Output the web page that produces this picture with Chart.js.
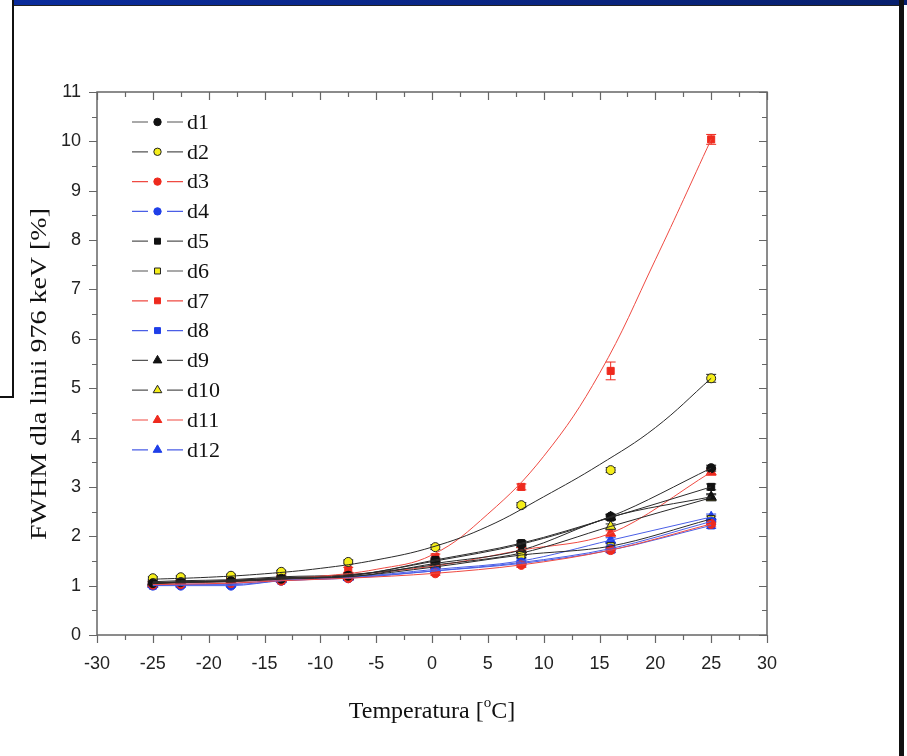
<!DOCTYPE html>
<html lang="pl">
<head>
<meta charset="UTF-8">
<title>FWHM vs temperatura</title>
<script src="https://cdn.jsdelivr.net/npm/chart.js@4.4.1/dist/chart.umd.min.js"></script>
<style>
  body { margin: 0; background: #fff; }
  #wrap { position: relative; width: 907px; height: 756px; overflow: hidden; }
  .f { position: absolute; }
  #chart { position: absolute; left: 0; top: 0; }
</style>
</head>
<body>
<div id="wrap">
  <div class="f" style="left:13px;top:0;width:894px;height:5px;background:linear-gradient(to right,#0b2c9c,#08206e);"></div>
  <div class="f" style="left:13px;top:5px;width:888px;height:1px;background:#222;"></div>
  <div class="f" style="left:12px;top:0;width:2px;height:398px;background:#111;"></div>
  <div class="f" style="left:0;top:396px;width:14px;height:2px;background:#111;"></div>
  <div class="f" style="left:899px;top:0;width:5px;height:756px;background:#111;"></div>
  <canvas id="chart" width="907" height="756"></canvas>
</div>
<script>
// temperatures of the measurements
const temps = [-25, -22.5, -18, -13.5, -7.5, 0.3, 8, 16, 25];

// FWHM [%] per detector
const d1  = [1.05, 1.07, 1.09, 1.14, 1.20, 1.50, 1.84, 2.40, 3.38];
const d2  = [1.15, 1.17, 1.20, 1.28, 1.48, 1.78, 2.63, 3.34, 5.20];
const d3  = [1.02, 1.03, 1.05, 1.10, 1.15, 1.25, 1.42, 1.72, 2.25];
const d4  = [1.00, 1.00, 1.00, 1.10, 1.15, 1.30, 1.47, 1.75, 2.30];
const d5  = [1.06, 1.08, 1.10, 1.16, 1.20, 1.52, 1.86, 2.38, 3.00];
const d6  = [1.04, 1.06, 1.08, 1.13, 1.18, 1.38, 1.62, 1.80, 2.35];
const d7  = [1.06, 1.08, 1.12, 1.20, 1.32, 1.58, 3.00, 5.35, 10.04];
const d8  = [1.00, 1.02, 1.02, 1.10, 1.16, 1.30, 1.45, 1.72, 2.22];
const d9  = [1.05, 1.07, 1.10, 1.15, 1.18, 1.45, 1.72, 2.39, 2.80];
const d10 = [1.08, 1.10, 1.12, 1.18, 1.22, 1.42, 1.66, 2.20, 2.78];
const d11 = [1.04, 1.06, 1.10, 1.15, 1.22, 1.40, 1.72, 2.06, 3.30];
const d12 = [1.02, 1.03, 1.04, 1.12, 1.17, 1.33, 1.50, 1.92, 2.39];

// fitted curves of d2 and d7 on a 5-degree grid
const fitTemps = [-25, -20, -15, -10, -5, 0, 5, 10, 15, 20, 25];
const d2Fit = [1.13, 1.17, 1.24, 1.35, 1.52, 1.78, 2.20, 2.80, 3.45, 4.20, 5.20];
const d7Fit = [1.05, 1.07, 1.11, 1.19, 1.33, 1.62, 2.45, 3.62, 5.30, 7.60, 10.04];

// error bars
const errSmall = [0.03, 0.03, 0.03, 0.03, 0.04, 0.04, 0.05, 0.05, 0.06];
const d2Err = [0.03, 0.03, 0.03, 0.03, 0.04, 0.05, 0.05, 0.05, 0.08];
const d7Err = [0.03, 0.03, 0.03, 0.04, 0.05, 0.06, 0.06, 0.18, 0.10];

const yTicks = [0, 1, 2, 3, 4, 5, 6, 7, 8, 9, 10, 11];
const xTicks = [-30, -25, -20, -15, -10, -5, 0, 5, 10, 15, 20, 25, 30];

const BLACK = '#111', YELLOW = '#f5ee1a', RED = '#ee2a1e', BLUE = '#1f3fe8';
const LBLACK = '#3a3a3a', LRED = '#ef4a42', LBLUE = '#4a5ee6';

const series = [
  {label: 'd1',  data: d1,  fill: BLACK,  line: LBLACK, style: 'circle'},
  {label: 'd2',  data: d2,  fill: YELLOW, line: LBLACK, style: 'circle', fit: d2Fit, err: d2Err},
  {label: 'd3',  data: d3,  fill: RED,    line: LRED,   style: 'circle'},
  {label: 'd4',  data: d4,  fill: BLUE,   line: LBLUE,  style: 'circle'},
  {label: 'd5',  data: d5,  fill: BLACK,  line: LBLACK, style: 'rect'},
  {label: 'd6',  data: d6,  fill: YELLOW, line: LBLACK, style: 'rect'},
  {label: 'd7',  data: d7,  fill: RED,    line: LRED,   style: 'rect', fit: d7Fit, err: d7Err},
  {label: 'd8',  data: d8,  fill: BLUE,   line: LBLUE,  style: 'rect'},
  {label: 'd9',  data: d9,  fill: BLACK,  line: LBLACK, style: 'triangle'},
  {label: 'd10', data: d10, fill: YELLOW, line: LBLACK, style: 'triangle'},
  {label: 'd11', data: d11, fill: RED,    line: LRED,   style: 'triangle'},
  {label: 'd12', data: d12, fill: BLUE,   line: LBLUE,  style: 'triangle'}
];

function pts(xs, arr) { return xs.map((t, i) => ({x: t, y: arr[i]})); }
function markerBorder(s) { return s.fill === YELLOW ? '#222' : s.fill; }
function radius(s) { return s.style === 'triangle' ? 5.8 : (s.style === 'rect' ? 5 : 4.5); }

let datasets = [];
series.forEach(s => {
  // fit curve, or a smooth line through the points
  datasets.push({
    data: s.fit ? pts(fitTemps, s.fit) : pts(temps, s.data),
    borderColor: s.line === LBLACK ? '#2a2a2a' : s.line,
    borderWidth: 1,
    pointRadius: 0,
    cubicInterpolationMode: s.fit ? 'default' : 'monotone',
    tension: 0.4,
    showLine: true
  });
});
series.forEach(s => {
  datasets.push({
    label: s.label,
    data: pts(temps, s.data),
    showLine: false,
    pointStyle: s.style,
    pointRadius: radius(s),
    pointBackgroundColor: s.fill,
    pointBorderColor: markerBorder(s),
    pointBorderWidth: 1,
    errColor: s.fill === YELLOW ? '#222' : s.fill,
    err: s.err || errSmall
  });
});

const errorBars = {
  id: 'errorBars',
  beforeDatasetsDraw(chart) {
    const ctx = chart.ctx, xs = chart.scales.x, ys = chart.scales.y;
    ctx.save();
    ctx.lineWidth = 1;
    chart.data.datasets.forEach(ds => {
      if (!ds.err) return;
      ctx.strokeStyle = ds.errColor;
      ds.data.forEach((p, i) => {
        const px = xs.getPixelForValue(p.x);
        const y1 = ys.getPixelForValue(p.y - ds.err[i]);
        const y2 = ys.getPixelForValue(p.y + ds.err[i]);
        ctx.beginPath();
        ctx.moveTo(px, y1); ctx.lineTo(px, y2);
        ctx.moveTo(px - 5, y1); ctx.lineTo(px + 5, y1);
        ctx.moveTo(px - 5, y2); ctx.lineTo(px + 5, y2);
        ctx.stroke();
      });
    });
    ctx.restore();
  }
};

const frame = {
  id: 'frame',
  afterDraw(chart) {
    const ctx = chart.ctx, a = chart.chartArea, xs = chart.scales.x, ys = chart.scales.y;
    ctx.save();
    ctx.strokeStyle = '#666';
    ctx.lineWidth = 1.5;
    ctx.strokeRect(a.left, a.top, a.right - a.left, a.bottom - a.top);
    ctx.lineWidth = 1.2;
    ctx.beginPath();
    for (let v = -30; v <= 30; v += 2.5) {
      const px = Math.round(xs.getPixelForValue(v)) + 0.5;
      const len = (v % 5 === 0) ? 8 : 5;
      ctx.moveTo(px, a.bottom); ctx.lineTo(px, a.bottom + len);
      ctx.moveTo(px, a.top); ctx.lineTo(px, a.top + len);
    }
    for (let v = 0; v <= 11; v += 0.5) {
      const py = Math.round(ys.getPixelForValue(v)) + 0.5;
      const len = (v % 1 === 0) ? 8 : 5;
      ctx.moveTo(a.left, py); ctx.lineTo(a.left - len, py);
      ctx.moveTo(a.right, py); ctx.lineTo(a.right - len, py);
    }
    ctx.stroke();

    // axis titles
    ctx.fillStyle = '#111';
    ctx.textBaseline = 'middle';
    ctx.textAlign = 'left';
    const big = '24px "Liberation Serif", "Times New Roman", serif';
    const small = '15px "Liberation Serif", "Times New Roman", serif';
    const t1 = 'Temperatura [', t2 = 'C]';
    ctx.font = big;
    const w1 = ctx.measureText(t1).width, w2 = ctx.measureText(t2).width;
    ctx.font = small;
    const wo = ctx.measureText('o').width;
    const x0 = (a.left + a.right) / 2 - (w1 + wo + w2) / 2;
    const yT = 712;
    ctx.font = big;
    ctx.fillText(t1, x0, yT);
    ctx.font = small;
    ctx.fillText('o', x0 + w1, yT - 9);
    ctx.font = big;
    ctx.fillText(t2, x0 + w1 + wo, yT);

    const yTitle = 'FWHM dla linii 976 keV [%]';
    ctx.font = big;
    const wy = ctx.measureText(yTitle).width;
    ctx.translate(40, 374);
    ctx.rotate(-Math.PI / 2);
    ctx.scale(332 / wy, 1);
    ctx.textAlign = 'center';
    ctx.fillText(yTitle, 0, 0);
    ctx.restore();

    // legend
    ctx.save();
    series.forEach((s, i) => {
      const y = 122 + i * 29.8;
      ctx.strokeStyle = s.line === LBLACK ? '#555' : s.line;
      ctx.lineWidth = 1.2;
      ctx.beginPath();
      ctx.moveTo(132, y); ctx.lineTo(148, y);
      ctx.moveTo(167, y); ctx.lineTo(183, y);
      ctx.stroke();
      ctx.fillStyle = s.fill;
      ctx.strokeStyle = markerBorder(s);
      ctx.lineWidth = 1;
      Chart.helpers.drawPoint(ctx, {pointStyle: s.style, radius: radius(s) - 0.8, borderWidth: 1, rotation: 0}, 157.5, y);
      ctx.fillStyle = '#111';
      ctx.font = '22px "Liberation Serif", serif';
      ctx.textAlign = 'left';
      ctx.textBaseline = 'middle';
      ctx.fillText(s.label, 187, y + 1);
    });
    ctx.restore();
  }
};

const tickFont = {family: '"Liberation Sans", Arial, sans-serif', size: 18};

new Chart(document.getElementById('chart').getContext('2d'), {
  type: 'scatter',
  data: {datasets: datasets},
  options: {
    responsive: false,
    animation: false,
    layout: {padding: {top: 92, right: 140, left: 0, bottom: 0}},
    plugins: {legend: {display: false}, tooltip: {enabled: false}},
    scales: {
      x: {
        type: 'linear', min: -30, max: 30,
        afterBuildTicks: s => { s.ticks = xTicks.map(v => ({value: v})); },
        afterFit: s => { s.height = 121; },
        grid: {display: false, drawTicks: false},
        border: {display: false},
        ticks: {font: tickFont, color: '#222', padding: 18}
      },
      y: {
        type: 'linear', min: 0, max: 11,
        afterBuildTicks: s => { s.ticks = yTicks.map(v => ({value: v})); },
        afterFit: s => { s.width = 97; },
        grid: {display: false, drawTicks: false},
        border: {display: false},
        ticks: {font: tickFont, color: '#222', padding: 16}
      }
    }
  },
  plugins: [errorBars, frame]
});
</script>
</body>
</html>
